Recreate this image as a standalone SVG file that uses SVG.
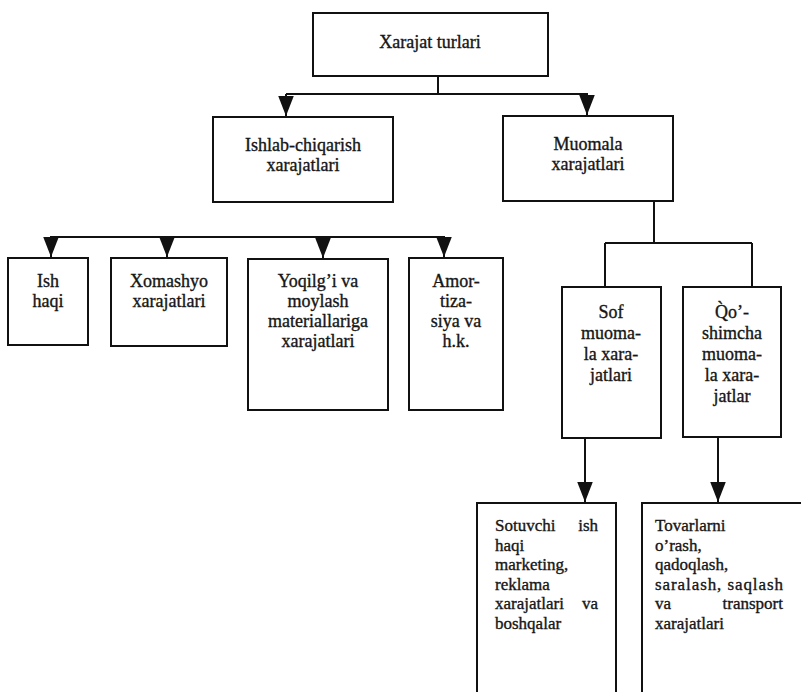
<svg xmlns="http://www.w3.org/2000/svg" width="801" height="692" viewBox="0 0 801 692">
<style>
.box{fill:#fff;stroke:#111;stroke-width:2}
.ln{fill:none;stroke:#111;stroke-width:2}
text{font-family:"Liberation Serif","Times New Roman",serif;font-size:18px;fill:#161616;stroke:#161616;stroke-width:0.35}
.s{font-size:17px}
.c{text-anchor:middle}
.e{text-anchor:end}
</style>
<defs>
<marker id="ah2" markerUnits="userSpaceOnUse" markerWidth="16" markerHeight="20" refX="7" refY="18" viewBox="0 0 14 18">
<path d="M0,0 L14,0 L7,18 Z" fill="#111"/>
</marker>
</defs>
<rect width="801" height="692" fill="#fff"/>
<g id="connectors">
<path class="ln" d="M438,76 V94 M286,94 H588"/>
<line class="ln" x1="286" y1="94" x2="286" y2="116" marker-end="url(#ah2)"/>
<line class="ln" x1="587" y1="94" x2="587" y2="115" marker-end="url(#ah2)"/>
<path class="ln" d="M50,237 H445"/>
<line class="ln" x1="51" y1="237" x2="51" y2="257" marker-end="url(#ah2)"/>
<line class="ln" x1="167" y1="237" x2="167" y2="257" marker-end="url(#ah2)"/>
<line class="ln" x1="323" y1="237" x2="323" y2="258" marker-end="url(#ah2)"/>
<line class="ln" x1="444" y1="237" x2="444" y2="257" marker-end="url(#ah2)"/>
<path class="ln" d="M654,201 V243 M605,243 H752 M605,243 V287 M752,243 V287"/>
<line class="ln" x1="585" y1="438" x2="585" y2="502" marker-end="url(#ah2)"/>
<line class="ln" x1="718" y1="437" x2="718" y2="502" marker-end="url(#ah2)"/>
</g>
<g id="n-top">
<rect class="box" x="313" y="13" width="235" height="63"/>
<text class="c" x="430" y="48">Xarajat turlari</text>
</g>
<g id="n-ishlab">
<rect class="box" x="213" y="117" width="180" height="85"/>
<text class="c" x="303" y="151">Ishlab-chiqarish</text>
<text class="c" x="303" y="171">xarajatlari</text>
</g>
<g id="n-muomala">
<rect class="box" x="503" y="116" width="170" height="85"/>
<text class="c" x="588" y="150">Muomala</text>
<text class="c" x="588" y="170">xarajatlari</text>
</g>
<g id="n-ish">
<rect class="box" x="8" y="258" width="80" height="87"/>
<text class="c" x="48" y="287">Ish</text>
<text class="c" x="48" y="307">haqi</text>
</g>
<g id="n-xomashyo">
<rect class="box" x="111" y="258" width="116" height="88"/>
<text class="c" x="169" y="287">Xomashyo</text>
<text class="c" x="169" y="307">xarajatlari</text>
</g>
<g id="n-yoqilgi">
<rect class="box" x="248" y="259" width="140" height="151"/>
<text class="c" x="318" y="287">Yoqilg’i va</text>
<text class="c" x="318" y="307">moylash</text>
<text class="c" x="318" y="327">materiallariga</text>
<text class="c" x="318" y="347">xarajatlari</text>
</g>
<g id="n-amor">
<rect class="box" x="409" y="258" width="94" height="152"/>
<text class="c" x="456" y="287">Amor-</text>
<text class="c" x="456" y="307">tiza-</text>
<text class="c" x="456" y="327">siya va</text>
<text class="c" x="456" y="347">h.k.</text>
</g>
<g id="n-sof">
<rect class="box" x="562" y="287" width="99" height="151"/>
<text class="c" x="611" y="318">Sof</text>
<text class="c" x="611" y="339">muoma-</text>
<text class="c" x="611" y="360">la xara-</text>
<text class="c" x="611" y="381">jatlari</text>
</g>
<g id="n-qoshimcha">
<rect class="box" x="683" y="287" width="98" height="150"/>
<text class="c" x="732" y="318">Q̀o’-</text>
<text class="c" x="732" y="339">shimcha</text>
<text class="c" x="732" y="360">muoma-</text>
<text class="c" x="732" y="381">la xara-</text>
<text class="c" x="732" y="402">jatlar</text>
</g>
<g id="n-sotuvchi">
<rect class="box" x="477" y="503" width="139" height="200"/>
<text class="s" x="495" y="531">Sotuvchi</text>
<text class="s e" x="598" y="531">ish</text>
<text class="s" x="495" y="550.5">haqi</text>
<text class="s" x="495" y="570">marketing,</text>
<text class="s" x="495" y="589.5">reklama</text>
<text class="s" x="495" y="609">xarajatlari</text>
<text class="s e" x="598" y="609">va</text>
<text class="s" x="495" y="628.5">boshqalar</text>
</g>
<g id="n-tovarlarni">
<rect class="box" x="642" y="503" width="170" height="200"/>
<text class="s" x="655" y="531">Tovarlarni</text>
<text class="s" x="655" y="550.5">o’rash,</text>
<text class="s" x="655" y="570">qadoqlash,</text>
<text class="s" x="655" y="589.5" textLength="128" lengthAdjust="spacing">saralash, saqlash</text>
<text class="s" x="655" y="609">va</text>
<text class="s e" x="783" y="609">transport</text>
<text class="s" x="655" y="628.5">xarajatlari</text>
</g>
</svg>
